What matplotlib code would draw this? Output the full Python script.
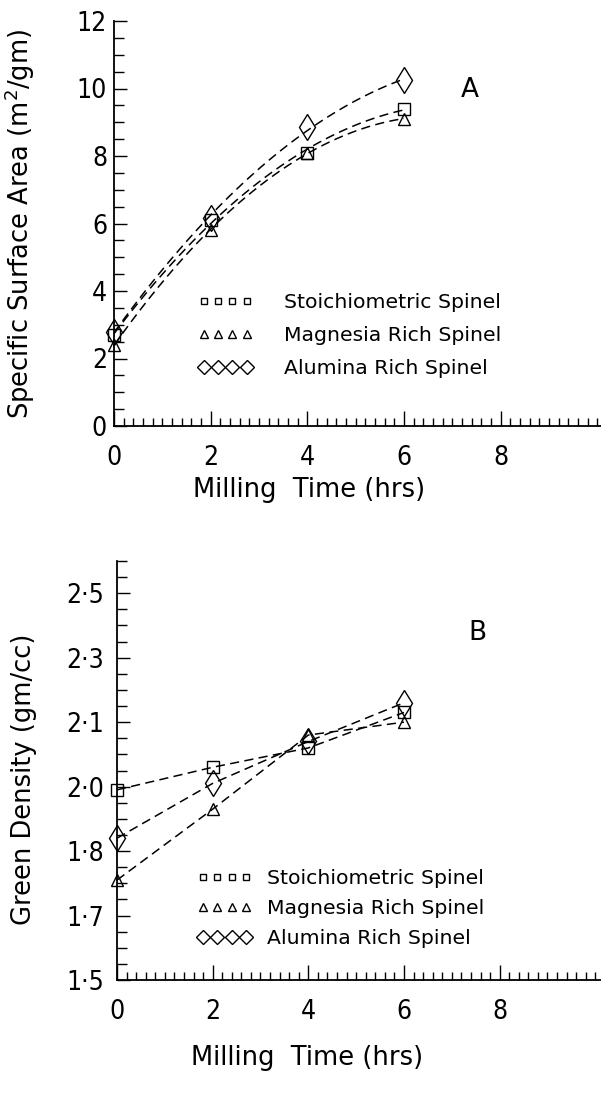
import numpy as np
import matplotlib
import matplotlib.pyplot as plt
from matplotlib.lines import Line2D
from matplotlib.ticker import MultipleLocator, FixedLocator
matplotlib.use('Agg')
plt.rcParams['font.family'] = ['DejaVu Sans']

milling_hrs = [0, 2, 4, 6]
names = ['Stoichiometric Spinel', 'Magnesia Rich Spinel', 'Alumina Rich Spinel']

# panel A: specific surface area (m2/gm)
ssa_stoich = [2.7, 6.1, 8.1, 9.4]
ssa_magnesia = [2.4, 5.8, 8.1, 9.1]
ssa_alumina = [2.8, 6.15, 8.85, 10.25]

# panel B: green density (gm/cc), read against the printed labels
gd_stoich = [1.99, 2.03, 2.06, 2.13]
gd_magnesia = [1.755, 1.93, 2.08, 2.10]
gd_alumina = [1.84, 2.005, 2.07, 2.16]

# panel B labels are evenly spaced but unevenly valued
gd_tick_values = [1.5, 1.7, 1.8, 2.0, 2.1, 2.3, 2.5]
gd_tick_labels = ['1·5', '1·7', '1·8', '2·0', '2·1', '2·3', '2·5']

markers = ['s', '^', 'd']
msizes = [8.5, 9, 13]
leg_markers = ['s', '^', 'D']
leg_msizes = [3.8, 5.6, 7.5]
dash = (6, 3.5)
lw = 1.1

# piecewise scale so the uneven labels sit evenly
scale_vals = [1.3] + gd_tick_values + [2.7]
scale_pos = np.arange(-1, len(gd_tick_values) + 1)


def fwd(v):
    return np.interp(v, scale_vals, scale_pos)


def inv(p):
    return np.interp(p, scale_pos, scale_vals)


def style_axes(ax):
    for s in ['top', 'right']:
        ax.spines[s].set_visible(False)
    for s in ['left', 'bottom']:
        ax.spines[s].set_linewidth(1.3)
    ax.tick_params(which='both', direction='in', width=1.0)
    ax.tick_params(axis='x', which='major', length=11, pad=14, labelsize=19)
    ax.tick_params(axis='x', which='minor', length=6)
    ax.tick_params(axis='y', which='major', length=9, pad=5, labelsize=19)
    ax.tick_params(axis='y', which='minor', length=7)
    ax.set_xticks([0, 2, 4, 6, 8])
    ax.xaxis.set_minor_locator(MultipleLocator(0.2))


def condense_ticks(ax):
    for lab in ax.get_xticklabels() + ax.get_yticklabels():
        lab.set_fontstretch('condensed')


def add_legend(ax, anchor, textpad, spacing):
    handles = [Line2D([], [], ls='none', marker=m, ms=s, mfc='none',
                      mec='black', mew=1.0)
               for m, s in zip(leg_markers, leg_msizes)]
    ax.legend(handles, names, numpoints=4, handlelength=2.7,
              handletextpad=textpad, labelspacing=spacing, fontsize=14.7,
              frameon=False, loc='upper left', bbox_to_anchor=anchor,
              borderpad=0, borderaxespad=0)


fig = plt.figure(figsize=(6.01, 11.03), dpi=100)

# ---- panel A
ax1 = fig.add_axes([114 / 601, 1 - 426 / 1103, 487 / 601, 405 / 1103])
style_axes(ax1)
xs = np.linspace(0, 6, 100)
for ys, m, s in zip([ssa_stoich, ssa_magnesia, ssa_alumina], markers, msizes):
    fit = np.polyfit(milling_hrs, ys, 2)
    ax1.plot(xs, np.polyval(fit, xs), color='black', lw=lw, dashes=dash)
    ax1.plot(milling_hrs, ys, ls='none', marker=m, ms=s, mfc='none',
             mec='black', mew=1.0, clip_on=False)
ax1.set_xlim(0, 487 / 48.33)
ax1.set_ylim(0, 12)
ax1.set_yticks(range(0, 13, 2))
ax1.yaxis.set_minor_locator(MultipleLocator(0.5))
condense_ticks(ax1)
ax1.set_ylabel('Specific Surface Area (m$^2$/gm)', fontsize=18.5)
ax1.yaxis.set_label_coords(-0.158, 0.5)
ax1.set_xlabel('Milling  Time (hrs)', fontsize=18.5)
ax1.xaxis.set_label_coords(0.40, -0.125)
ax1.text(0.731, 0.83, 'A', transform=ax1.transAxes, fontsize=19,
         ha='center', va='center')
add_legend(ax1, (0.172, 0.328), 1.5, 0.68)

# ---- panel B
ax2 = fig.add_axes([117 / 601, 1 - 980 / 1103, 484 / 601, 419 / 1103])
ax2.set_yscale('function', functions=(fwd, inv))
style_axes(ax2)
for ys, m, s in zip([gd_stoich, gd_magnesia, gd_alumina], markers, msizes):
    ax2.plot(milling_hrs, ys, color='black', lw=lw, dashes=dash,
             marker=m, ms=s, mfc='none', mec='black', mew=1.0, clip_on=False)
ax2.set_xlim(0, 484 / 47.83)
ax2.set_ylim(1.5, inv(6.5))
ax2.yaxis.set_major_locator(FixedLocator(gd_tick_values))
ax2.set_yticklabels(gd_tick_labels)
ax2.yaxis.set_minor_locator(FixedLocator(inv(np.arange(0, 6.6, 0.25))))
ax2.tick_params(axis='y', which='major', pad=9)
condense_ticks(ax2)
ax2.set_ylabel('Green Density (gm/cc)', fontsize=18.5)
ax2.yaxis.set_label_coords(-0.165, 0.48)
ax2.set_xlabel('Milling  Time (hrs)', fontsize=18.5)
ax2.xaxis.set_label_coords(0.393, -0.155)
ax2.text(0.744, 0.828, 'B', transform=ax2.transAxes, fontsize=19,
         ha='center', va='center')
add_legend(ax2, (0.165, 0.265), 0.72, 0.55)

fig.savefig('out.png', dpi=100)
